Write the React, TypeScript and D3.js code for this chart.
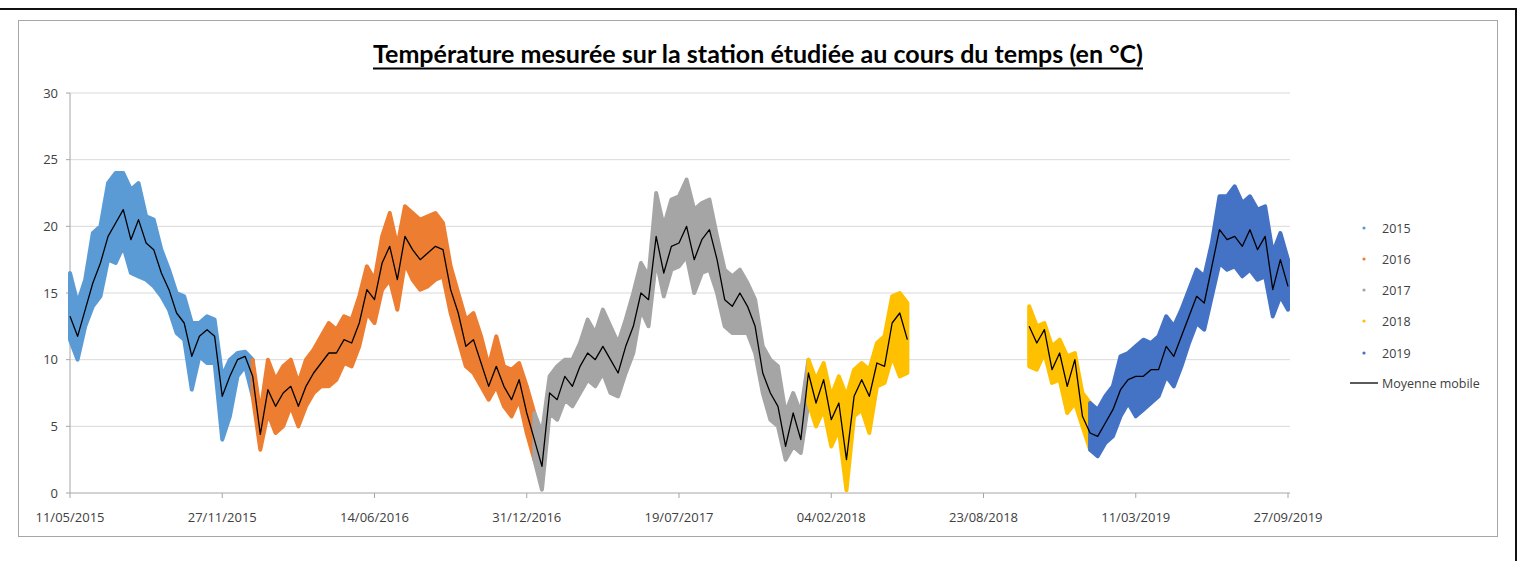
import React from "react";
import * as d3 from "d3";

// ---------- DATA ----------
const TITLE = "Température mesurée sur la station étudiée au cours du temps (en °C)";
const START_DATE = "11/05/2015";
const STEP_DAYS = 10;

// moving average (°C), one value every 10 days from 11/05/2015
const meanValues: (number | null)[] = [
  13.25, 11.75, 13.75, 15.75, 17.25, 19.25, 20.25, 21.25, 19, 20.5,
  18.75, 18.25, 16.5, 15.25, 13.5, 12.75, 10.25, 11.75, 12.25, 11.75,
  7.25, 8.75, 10, 10.25, 8.75, 4.4, 7.75, 6.5, 7.5, 8,
  6.5, 8, 9, 9.75, 10.5, 10.5, 11.5, 11.25, 12.75, 15.25,
  14.5, 17.25, 18.5, 16, 19.25, 18.25, 17.5, 18, 18.5, 18.25,
  15.25, 13.5, 11, 11.5, 9.75, 8, 9.5, 8, 7, 8.5,
  6, 4, 2, 7.5, 7, 8.75, 8, 9.5, 10.5, 10,
  11, 10, 9, 11, 12.5, 15, 14.5, 19.25, 16.5, 18.5,
  18.75, 20, 17.5, 19, 19.75, 17.5, 14.5, 14, 15, 14,
  12.5, 9, 7.5, 6.5, 3.5, 6, 4, 9, 6.75, 8.5,
  5.5, 6.75, 2.5, 7.25, 8.5, 7.25, 9.75, 9.5, 12.75, 13.5,
  11.5, null, null, null, null, null, null, null, null, null,
  null, null, null, null, null, null, 12.5, 11.25, 12.25, 9.25,
  10.5, 8, 10, 5.75, 4.5, 4.25, 5.25, 6.25, 7.75, 8.5,
  8.75, 8.75, 9.25, 9.25, 11, 10.25, 11.75, 13.25, 14.75, 14.25,
  17, 19.75, 19, 19.25, 18.5, 19.75, 18.25, 19.25, 15.25, 17.5,
  15.5,
];

// upper edge of the measured points (°C)
const highValues: (number | null)[] = [
  16.5, 14.25, 16, 19.5, 20, 23.25, 24, 24, 22.75, 23.25,
  20.75, 20.5, 18.25, 16.75, 15, 14.75, 12.75, 12.75, 13.25, 13,
  8.75, 10, 10.5, 10.6, 10, 6, 10, 8.5, 9.5, 10,
  8.25, 10, 10.75, 11.75, 12.75, 12.25, 13.25, 13, 14.75, 17,
  16, 19.25, 21, 18.5, 21.5, 21, 20.5, 20.75, 21, 20.25,
  17, 15, 13, 13.5, 11.75, 9.5, 11.75, 9.5, 9.25, 9.75,
  8, 6, 4.5, 8.75, 9.5, 10, 10, 11.25, 13, 12,
  13.75, 12.5, 11.25, 13, 15, 17.25, 16.25, 22.5, 20, 22,
  22.25, 23.5, 21.25, 21.75, 22, 19.25, 16.75, 16.25, 16.75, 15.75,
  14.5, 11, 10, 9.5, 6, 7.5, 6, 10, 8.5, 9.75,
  7.25, 8.75, 7.25, 9.25, 9.75, 9.25, 11.25, 11.75, 14.75, 15,
  14.25, null, null, null, null, null, null, null, null, null,
  null, null, null, null, null, null, 14, 12.5, 12.75, 11,
  11.5, 10.25, 10.5, 7.5, 6.75, 6.25, 7.25, 8, 10.25, 10.5,
  11, 11.5, 11.25, 11.75, 13.25, 12.5, 13.75, 15.25, 16.75, 16.25,
  18.75, 22.25, 22.25, 23, 21.75, 22.25, 21.25, 21.5, 18, 19.5,
  17.5,
];

// lower edge of the measured points (°C)
const lowValues: (number | null)[] = [
  11.5, 10, 12.5, 14, 14.75, 17.5, 17.25, 18.5, 16.5, 16.25,
  16, 15.5, 14.75, 13.75, 12, 11.5, 7.75, 10.25, 9.75, 9.75,
  4, 5.75, 8.75, 9.5, 7.25, 3.25, 6, 4.5, 5, 6.5,
  5, 6.5, 7.5, 8, 8, 8.5, 9.75, 9.5, 11, 13.5,
  12.75, 15.25, 16, 13.75, 17.25, 16, 15.25, 15.5, 16, 16.25,
  13.5, 11.5, 9.5, 9, 8, 7, 8, 6.5, 5.75, 7,
  4.5, 2.5, 0.25, 6, 5.5, 7, 6.5, 7.5, 8.5, 8,
  9, 7.5, 7.25, 9, 10.5, 13.75, 12.5, 17.5, 14.75, 16.75,
  17, 17.75, 15, 16.5, 16.75, 15, 12.5, 12, 12, 12,
  10.5, 7.5, 5.5, 5, 2.5, 3.5, 3, 6.75, 5, 6.25,
  3.5, 4.75, 0.2, 5.75, 6.25, 4.5, 8, 8.25, 10.25, 8.75,
  9, null, null, null, null, null, null, null, null, null,
  null, null, null, null, null, null, 9.5, 9.25, 10.5, 8.25,
  8.5, 6, 6.75, 5, 3.25, 2.75, 3.75, 4.25, 5.75, 6.75,
  5.75, 6.25, 6.75, 7.25, 8.75, 8, 9.5, 11.25, 12.75, 12.25,
  14.75, 17.25, 16.75, 17, 16.25, 16.75, 16, 16.25, 13.25, 14.75,
  13.75,
];

const years = [2015, 2016, 2017, 2018, 2019];
const yearColors = ["#5B9BD5", "#ED7D31", "#A5A5A5", "#FFC000", "#4472C4"];
const yTicks = [0, 5, 10, 15, 20, 25, 30];
const xTickLabels = [
  "11/05/2015", "27/11/2015", "14/06/2016", "31/12/2016", "19/07/2017",
  "04/02/2018", "23/08/2018", "11/03/2019", "27/09/2019",
];
const MOVING_LABEL = "Moyenne mobile";

// ---------- CHART ----------
type Pt = { date: Date; mean: number | null; hi: number | null; lo: number | null; year: number };

export default function App() {
  const W = 1522, H = 561;
  const parse = d3.timeParse("%d/%m/%Y");
  const start = parse(START_DATE) as Date;
  const tickDates = xTickLabels.map((s) => parse(s) as Date);

  const x = d3.scaleTime().domain([tickDates[0], tickDates[tickDates.length - 1]]).range([70, 1288]);
  const y = d3.scaleLinear().domain([0, 30]).range([493, 93]);

  const pts: Pt[] = meanValues.map((m, i) => {
    const date = d3.timeDay.offset(start, i * STEP_DAYS);
    return { date, mean: m, hi: highValues[i], lo: lowValues[i], year: date.getFullYear() };
  });

  const area = d3
    .area<Pt>()
    .x((d) => x(d.date))
    .y0((d) => y(d.lo as number))
    .y1((d) => y(d.hi as number));

  const line = d3
    .line<Pt>()
    .defined((d) => d.mean != null)
    .x((d) => x(d.date))
    .y((d) => y(d.mean as number));

  // contiguous segments per year
  const segments: { year: number; pts: Pt[] }[] = [];
  years.forEach((yr) => {
    let cur: Pt[] = [];
    pts.forEach((p, i) => {
      if (p.year === yr && p.hi != null) {
        cur.push(p);
        const nxt = pts[i + 1];
        if (!nxt || nxt.hi == null || nxt.year !== yr) {
          if (nxt && nxt.hi != null) cur.push(nxt);
          segments.push({ year: yr, pts: cur });
          cur = [];
        }
      }
    });
  });

  const font = "'Open Sans', 'Liberation Sans', sans-serif";
  const legendY = [228, 259, 290, 321, 353];

  return (
    <svg width={W} height={H} style={{ position: "absolute", left: 0, top: 0, background: "#fff" }}>
      {/* outer frame */}
      <line x1={0} y1={9} x2={1517} y2={9} stroke="#111" strokeWidth={2} />
      <line x1={1516} y1={9} x2={1516} y2={H} stroke="#111" strokeWidth={2} />
      {/* chart area border */}
      <rect x={18.5} y={20.5} width={1479} height={516} fill="#fff" stroke="#A6A6A6" strokeWidth={1} />

      {/* title */}
      <text
        x={373}
        y={63}
        fontFamily="Lato, 'Open Sans', sans-serif"
        fontWeight="bold"
        fontSize={24}
        fill="#000"
        textLength={770}
        lengthAdjust="spacingAndGlyphs"
      >
        {TITLE}
      </text>
      <line x1={373} x2={1143} y1={68.5} y2={68.5} stroke="#000" strokeWidth={2} />

      {/* gridlines */}
      {yTicks.map((t) => (
        <g key={t}>
          {t > 0 && <line x1={70} x2={1290} y1={y(t)} y2={y(t)} stroke="#D9D9D9" strokeWidth={1} />}
          <line x1={66} x2={70} y1={y(t)} y2={y(t)} stroke="#A6A6A6" />
          <text x={58} y={y(t) + 4.5} textAnchor="end" fontFamily={font} fontSize={13} fill="#404040">
            {t}
          </text>
        </g>
      ))}

      {/* axes */}
      <line x1={70} x2={70} y1={93} y2={493} stroke="#A6A6A6" />
      <line x1={70} x2={1290} y1={493} y2={493} stroke="#A6A6A6" />
      {tickDates.map((d, i) => (
        <g key={i}>
          <line x1={x(d)} x2={x(d)} y1={493} y2={498} stroke="#A6A6A6" />
          <text x={x(d)} y={522} textAnchor="middle" fontFamily={font} fontSize={13} fill="#404040">
            {xTickLabels[i]}
          </text>
        </g>
      ))}

      {/* measured points band, per year */}
      {segments.map((s, i) => {
        const c = yearColors[years.indexOf(s.year)];
        return (
          <path
            key={i}
            d={area(s.pts) || ""}
            fill={c}
            stroke={c}
            strokeWidth={4}
            strokeLinejoin="round"
          />
        );
      })}

      {/* moving average */}
      <path d={line(pts) || ""} fill="none" stroke="#000" strokeWidth={1.3} strokeLinejoin="round" />

      {/* legend */}
      {years.map((yr, i) => (
        <g key={yr}>
          <circle cx={1364} cy={legendY[i]} r={1.6} fill={yearColors[i]} />
          <text x={1382} y={legendY[i] + 4.5} fontFamily={font} fontSize={12.5} fill="#404040">
            {yr}
          </text>
        </g>
      ))}
      <line x1={1350} x2={1378} y1={383} y2={383} stroke="#000" strokeWidth={1.3} />
      <text x={1382} y={387.5} fontFamily={font} fontSize={12.5} fill="#404040">
        {MOVING_LABEL}
      </text>
    </svg>
  );
}
